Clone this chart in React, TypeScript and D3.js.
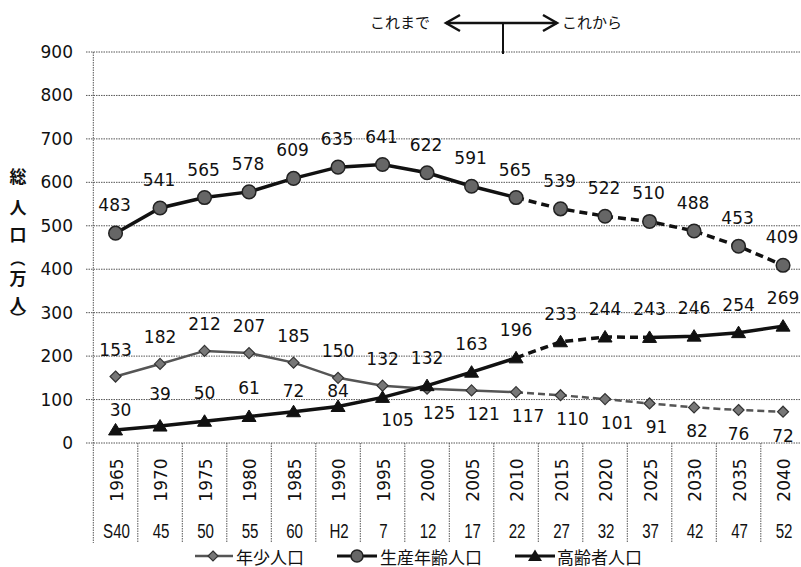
import React from 'react';
import * as d3 from 'd3';

const years = ['1965','1970','1975','1980','1985','1990','1995','2000','2005','2010','2015','2020','2025','2030','2035','2040'];
const eras = ['S40','45','50','55','60','H2','7','12','17','22','27','32','37','42','47','52'];
const youth = [153,182,212,207,185,150,132,125,121,117,110,101,91,82,76,72];
const working = [483,541,565,578,609,635,641,622,591,565,539,522,510,488,453,409];
const elderly = [30,39,50,61,72,84,105,132,163,196,233,244,243,246,254,269];
const yTicks = [0,100,200,300,400,500,600,700,800,900];
const seriesNames = ['年少人口','生産年齢人口','高齢者人口'];
const yTitle = ['総','人','口','（','万','人','）'];

const W = 801, H = 567;
const NUM_FONT = 'DejaVu Sans, Verdana, sans-serif';
const JP_FONT = '"Noto Sans CJK JP", "Noto Sans", sans-serif';
const ERA_FONT = '"Liberation Sans", Arial, sans-serif';

export default function App() {
  const x = d3.scaleBand<string>().domain(years).range([93.3, 93.3 + 16 * 44.5]);
  const y = d3.scaleLinear().domain([0, 900]).range([443, 52]);
  const cx = (i: number) => (x(years[i]) as number) + x.bandwidth() / 2;
  const line = (vals: number[], from: number, to: number) =>
    d3.line<number>().x((_, k) => cx(from + k)).y(v => y(v))(vals.slice(from, to + 1)) || '';

  const diamond = (px: number, py: number, s = 5.5) => `M${px},${py - s}L${px + s},${py}L${px},${py + s}L${px - s},${py}Z`;
  const triangle = (px: number, py: number) => `M${px},${py - 6.5}L${px + 7},${py + 5}L${px - 7},${py + 5}Z`;

  const left = x.range()[0];
  const bounds = d3.range(17).map(i => left + i * x.bandwidth());

  // label placement
  const youthLabel = (i: number) => {
    if (i <= 6) return { dx: 0, dy: -27 };
    const dx = i <= 11 ? 12 : i === 12 ? 7 : i === 13 ? 3 : 0;
    return { dx, dy: 24 };
  };
  const elderlyNudge: Record<number, number> = { 0: -20, 1: -32, 4: -21, 5: -16 };
  const elderlyLabel = (i: number) => {
    if (i === 6) return { dx: 15, dy: 23 };
    if (i === 0) return { dx: 5, dy: elderlyNudge[i] };
    if (elderlyNudge[i] !== undefined) return { dx: 0, dy: elderlyNudge[i] };
    return { dx: 0, dy: -28 };
  };

  const titleY = [175, 206, 233, 259, 277, 303, 318];
  const dash = '8,5';
  const LY = 556;
  return (
    <svg width={W} height={H} style={{ position: 'absolute', left: 0, top: 0, background: '#fff' }}>
      <rect width={W} height={H} fill="#fff" />
      {/* horizontal gridlines */}
      {yTicks.map(t => (
        <line key={t} x1={86} x2={W} y1={y(t)} y2={y(t)} stroke="#555" strokeWidth={1} strokeDasharray="1.5,1" />
      ))}
      {/* left axis */}
      <line x1={left} x2={left} y1={y(900)} y2={543} stroke="#555" strokeWidth={1} strokeDasharray="1.5,1" />
      {/* category separators */}
      {bounds.slice(1).map((b, i) => (
        <line key={i} x1={b} x2={b} y1={y(0)} y2={543} stroke="#555" strokeWidth={1} strokeDasharray="1.5,1" />
      ))}
      {/* y tick labels */}
      {yTicks.map(t => (
        <text key={t} x={73} y={y(t)} textAnchor="end" dominantBaseline="central" fontFamily={NUM_FONT} fontSize={17} fill="#111">{t}</text>
      ))}
      {/* y title */}
      {yTitle.map((c, i) => {
        const isParen = c === '（' || c === '）';
        return (
          <text key={i} transform={`translate(18,${titleY[i]})${isParen ? ' rotate(90)' : ''}`} textAnchor="middle" dominantBaseline="central" fontFamily={JP_FONT} fontWeight="bold" fontSize={isParen ? 15 : 17} fill="#111">{c}</text>
        );
      })}
      {/* year labels */}
      {years.map((yr, i) => (
        <text key={yr} transform={`translate(${cx(i) + 1},${480}) rotate(-90)`} textAnchor="middle" dominantBaseline="central" fontFamily={NUM_FONT} fontSize={17} fill="#111">{yr}</text>
      ))}
      {eras.map((e, i) => (
        <text key={i} transform={`translate(${cx(i) + 1},531) scale(0.72,1)`} textAnchor="middle" dominantBaseline="central" fontFamily={ERA_FONT} fontSize={21} fill="#111">{e}</text>
      ))}

      {/* youth */}
      <path d={line(youth, 0, 9)} fill="none" stroke="#555" strokeWidth={2.5} />
      <path d={line(youth, 9, 15)} fill="none" stroke="#555" strokeWidth={2.5} strokeDasharray="7,4" />
      {/* working */}
      <path d={line(working, 0, 9)} fill="none" stroke="#111" strokeWidth={3.5} />
      <path d={line(working, 9, 15)} fill="none" stroke="#111" strokeWidth={3.5} strokeDasharray={dash} />
      {/* elderly */}
      <path d={line(elderly, 0, 9)} fill="none" stroke="#111" strokeWidth={3.5} />
      <path d={line(elderly, 9, 12)} fill="none" stroke="#111" strokeWidth={3.5} strokeDasharray={dash} />
      <path d={line(elderly, 12, 15)} fill="none" stroke="#111" strokeWidth={3.5} />

      {youth.map((v, i) => (
        <path key={'ym' + i} d={diamond(cx(i), y(v))} fill="#777" stroke="#333" strokeWidth={1.2} />
      ))}
      {working.map((v, i) => (
        <circle key={'wm' + i} cx={cx(i)} cy={y(v)} r={6.8} fill="#666" stroke="#222" strokeWidth={1.5} />
      ))}
      {elderly.map((v, i) => (
        <path key={'em' + i} d={triangle(cx(i), y(v))} fill="#111" stroke="#111" strokeWidth={1} />
      ))}

      {/* labels */}
      {working.map((v, i) => (
        <text key={'wl' + i} x={cx(i) - 1} y={y(v) - 28} textAnchor="middle" dominantBaseline="central" fontFamily={NUM_FONT} fontSize={17} fill="#111">{v}</text>
      ))}
      {youth.map((v, i) => {
        const p = youthLabel(i);
        return (
          <text key={'yl' + i} x={cx(i) + p.dx} y={y(v) + p.dy} textAnchor="middle" dominantBaseline="central" fontFamily={NUM_FONT} fontSize={17} fill="#111">{v}</text>
        );
      })}
      {elderly.map((v, i) => {
        const p = elderlyLabel(i);
        return (
          <text key={'el' + i} x={cx(i) + p.dx} y={y(v) + p.dy} textAnchor="middle" dominantBaseline="central" fontFamily={NUM_FONT} fontSize={17} fill="#111">{v}</text>
        );
      })}

      {/* annotation */}
      <text x={430} y={21} textAnchor="end" dominantBaseline="central" fontFamily={JP_FONT} fontSize={15} fill="#111">これまで</text>
      <text x={562} y={21} textAnchor="start" dominantBaseline="central" fontFamily={JP_FONT} fontSize={15} fill="#111">これから</text>
      <line x1={446} x2={557} y1={23} y2={23} stroke="#111" strokeWidth={2.5} />
      <path d="M460,15L446,23L460,31" fill="none" stroke="#111" strokeWidth={2.5} />
      <path d="M543,15L557,23L543,31" fill="none" stroke="#111" strokeWidth={2.5} />
      <line x1={503} x2={503} y1={23} y2={54} stroke="#111" strokeWidth={2} />

      {/* legend */}
      <line x1={195} x2={233} y1={LY} y2={LY} stroke="#555" strokeWidth={2.5} />
      <path d={diamond(213, LY, 5)} fill="#777" stroke="#333" strokeWidth={1.2} />
      <text x={236} y={LY} dominantBaseline="central" fontFamily={JP_FONT} fontSize={17} fill="#111">{seriesNames[0]}</text>
      <line x1={337} x2={377} y1={LY} y2={LY} stroke="#111" strokeWidth={3} />
      <circle cx={357} cy={LY} r={6} fill="#666" stroke="#222" strokeWidth={1.5} />
      <text x={380} y={LY} dominantBaseline="central" fontFamily={JP_FONT} fontSize={17} fill="#111">{seriesNames[1]}</text>
      <line x1={515} x2={555} y1={LY} y2={LY} stroke="#111" strokeWidth={3} />
      <path d={triangle(535, LY)} fill="#111" />
      <text x={557} y={LY} dominantBaseline="central" fontFamily={JP_FONT} fontSize={17} fill="#111">{seriesNames[2]}</text>
    </svg>
  );
}
